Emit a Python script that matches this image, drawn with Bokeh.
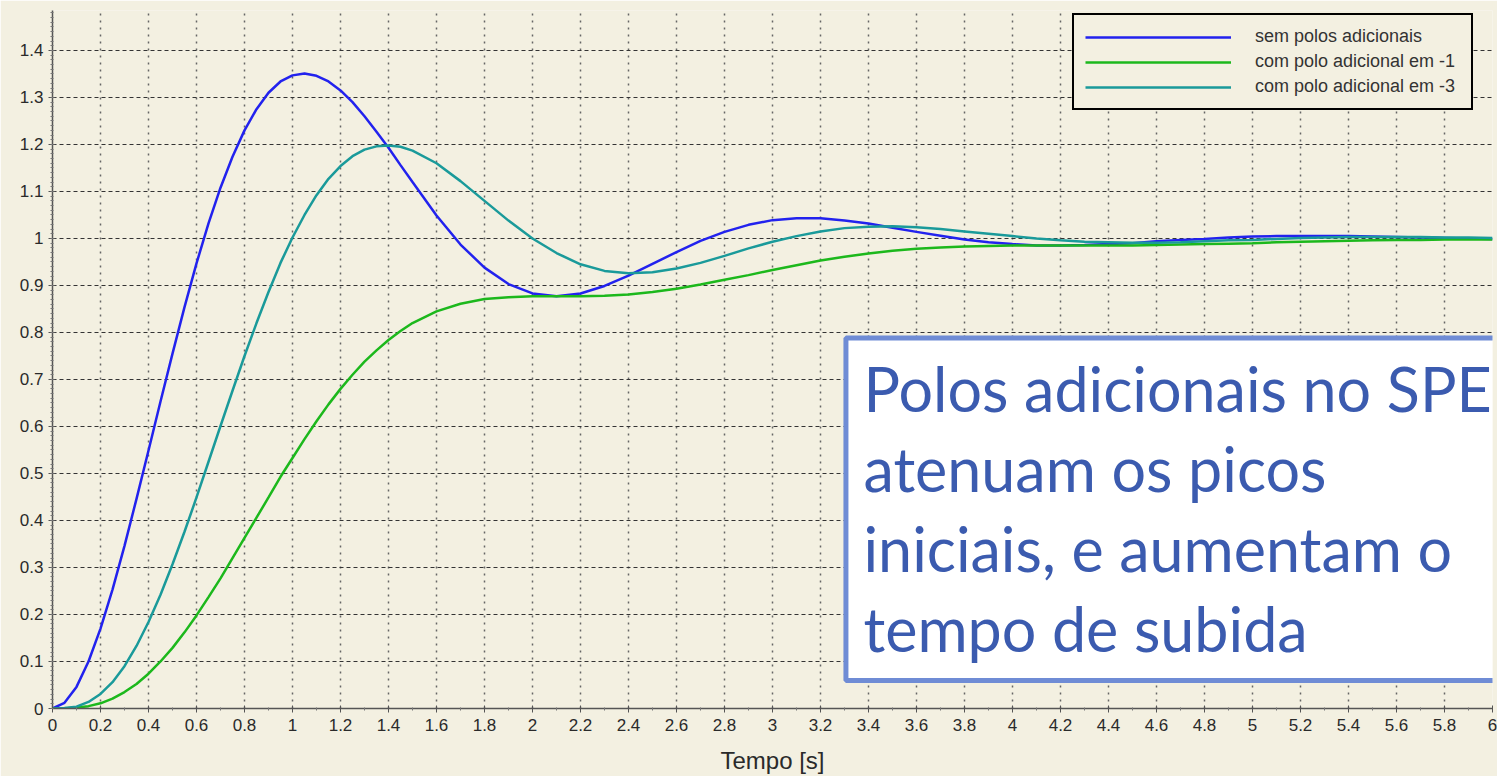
from bokeh.plotting import figure
from bokeh.models import FixedTicker, Legend, LegendItem, BoxAnnotation, Label, Range1d
from bokeh.embed import file_html
from bokeh.resources import INLINE

# ---- data ----
t = [0.0, 0.05, 0.1, 0.15, 0.2, 0.25, 0.3, 0.35, 0.4, 0.45,
     0.5, 0.55, 0.6, 0.65, 0.7, 0.75, 0.8, 0.85, 0.9, 0.95,
     1.0, 1.05, 1.1, 1.15, 1.2, 1.25, 1.3, 1.35, 1.4, 1.45, 1.5,
     1.6, 1.7, 1.8, 1.9,
     2.0, 2.1, 2.2, 2.3, 2.4, 2.5, 2.6, 2.7, 2.8, 2.9,
     3.0, 3.1, 3.2, 3.3, 3.4, 3.5, 3.6, 3.7, 3.8, 3.9,
     4.0, 4.1, 4.2, 4.3, 4.4, 4.5, 4.6, 4.7, 4.8, 4.9,
     5.0, 5.1, 5.2, 5.3, 5.4, 5.5, 5.6, 5.7, 5.8, 5.9, 6.0]

sem_polos = [0.000, 0.012, 0.046, 0.100, 0.170, 0.253, 0.346, 0.446, 0.549, 0.653,
             0.755, 0.854, 0.947, 1.032, 1.108, 1.174, 1.230, 1.275, 1.310, 1.334,
             1.347, 1.351, 1.346, 1.334, 1.315, 1.290, 1.260, 1.227, 1.193, 1.156, 1.120,
             1.049, 0.987, 0.938, 0.903,
             0.883, 0.877, 0.883, 0.899, 0.921, 0.946, 0.971, 0.995, 1.014, 1.029,
             1.039, 1.043, 1.043, 1.038, 1.032, 1.023, 1.014, 1.006, 0.998, 0.992,
             0.988, 0.985, 0.985, 0.986, 0.988, 0.990, 0.994, 0.997, 0.999, 1.002,
             1.004, 1.005, 1.005, 1.005, 1.005, 1.004, 1.003, 1.002, 1.001, 1.000, 0.999]

polo_em_1 = [0.000, 0.000, 0.002, 0.005, 0.011, 0.021, 0.035, 0.052, 0.074, 0.100,
             0.129, 0.162, 0.198, 0.237, 0.277, 0.320, 0.363, 0.406, 0.449, 0.493,
             0.533, 0.573, 0.611, 0.647, 0.680, 0.710, 0.738, 0.762, 0.784, 0.803, 0.820,
             0.845, 0.861, 0.871, 0.875,
             0.877, 0.877, 0.877, 0.878, 0.881, 0.886, 0.893, 0.902, 0.912, 0.922,
             0.933, 0.943, 0.953, 0.961, 0.968, 0.974, 0.978, 0.981, 0.983, 0.984,
             0.985, 0.985, 0.985, 0.985, 0.985, 0.985, 0.986, 0.987, 0.988, 0.989,
             0.990, 0.992, 0.993, 0.994, 0.995, 0.996, 0.997, 0.997, 0.998, 0.998, 0.998]

polo_em_3 = [0.000, 0.001, 0.004, 0.014, 0.031, 0.056, 0.090, 0.133, 0.184, 0.242,
             0.307, 0.376, 0.449, 0.525, 0.601, 0.676, 0.750, 0.820, 0.886, 0.948,
             1.002, 1.050, 1.092, 1.127, 1.154, 1.175, 1.189, 1.196, 1.198, 1.195, 1.187,
             1.160, 1.122, 1.080, 1.038,
             1.000, 0.969, 0.945, 0.931, 0.926, 0.928, 0.936, 0.948, 0.963, 0.979,
             0.993, 1.005, 1.015, 1.022, 1.025, 1.026, 1.024, 1.020, 1.015, 1.010,
             1.005, 1.000, 0.996, 0.993, 0.992, 0.991, 0.991, 0.992, 0.994, 0.996,
             0.997, 0.999, 1.001, 1.002, 1.003, 1.003, 1.003, 1.003, 1.002, 1.002, 1.001]

series_labels = ["sem polos adicionais", "com polo adicional em -1", "com polo adicional em -3"]

x_ticks = [0, 0.2, 0.4, 0.6, 0.8, 1, 1.2, 1.4, 1.6, 1.8, 2, 2.2, 2.4, 2.6, 2.8, 3,
           3.2, 3.4, 3.6, 3.8, 4, 4.2, 4.4, 4.6, 4.8, 5, 5.2, 5.4, 5.6, 5.8, 6]
x_tick_labels = ["0", "0.2", "0.4", "0.6", "0.8", "1", "1.2", "1.4", "1.6", "1.8", "2",
                 "2.2", "2.4", "2.6", "2.8", "3", "3.2", "3.4", "3.6", "3.8", "4",
                 "4.2", "4.4", "4.6", "4.8", "5", "5.2", "5.4", "5.6", "5.8", "6"]
y_ticks = [0, 0.1, 0.2, 0.3, 0.4, 0.5, 0.6, 0.7, 0.8, 0.9, 1, 1.1, 1.2, 1.3, 1.4]
y_tick_labels = ["0", "0.1", "0.2", "0.3", "0.4", "0.5", "0.6", "0.7", "0.8", "0.9",
                 "1", "1.1", "1.2", "1.3", "1.4"]

x_label = "Tempo [s]"
box_lines = ["Polos adicionais no SPE", "atenuam os picos",
             "iniciais, e aumentam o", "tempo de subida"]

# ---- styles ----
BG = "#F3F0E1"
C_BLUE = "#2222EE"
C_GREEN = "#1CB81C"
C_TEAL = "#1A9A9A"
TXT = "#2A2A2A"
FONT = "Liberation Sans"

p = figure(width=1497, height=776, x_range=Range1d(0, 6), y_range=Range1d(0, 1.485),
           output_backend="svg", toolbar_location=None,
           min_border_left=52, min_border_right=5, min_border_top=10, min_border_bottom=68,
           background_fill_color=BG, border_fill_color=BG, outline_line_color=None)

x_minor = [round(0.1 * k, 1) for k in range(1, 60, 2)]
y_minor = [round(0.01 * k, 2) for k in range(0, 149)]
p.xaxis.ticker = FixedTicker(ticks=x_ticks, minor_ticks=x_minor)
p.yaxis.ticker = FixedTicker(ticks=y_ticks, minor_ticks=y_minor)
p.xaxis.major_label_overrides = dict(zip(x_ticks, x_tick_labels))
p.yaxis.major_label_overrides = dict(zip(y_ticks, y_tick_labels))

for ax in (p.xaxis, p.yaxis):
    ax.axis_line_color = "#555555"
    ax.axis_line_width = 1.5
    ax.major_tick_line_color = "#555555"
    ax.minor_tick_line_color = "#777777"
    ax.major_tick_out = 4
    ax.major_tick_in = 3
    ax.minor_tick_out = 2
    ax.minor_tick_in = 1
    ax.major_label_text_font = FONT
    ax.major_label_text_font_size = "17px"
    ax.major_label_text_color = TXT
p.xaxis.major_label_standoff = 6
p.yaxis.major_label_standoff = 5
p.xaxis.axis_label = x_label
p.xaxis.axis_label_text_font = FONT
p.xaxis.axis_label_text_font_size = "24px"
p.xaxis.axis_label_text_font_style = "normal"
p.xaxis.axis_label_text_color = TXT
p.xaxis.axis_label_standoff = 13

p.xgrid.grid_line_color = "#666666"
p.xgrid.grid_line_width = 1.5
p.xgrid.grid_line_dash = "2 5"
p.ygrid.grid_line_color = "#333333"
p.ygrid.grid_line_width = 1
p.ygrid.grid_line_dash = "4 3"

r1 = p.line(t, sem_polos, line_color=C_BLUE, line_width=2.5)
r2 = p.line(t, polo_em_1, line_color=C_GREEN, line_width=2.5)
r3 = p.line(t, polo_em_3, line_color=C_TEAL, line_width=2.5)

box = BoxAnnotation(left=3.306, right=6.5, bottom=0.0596, top=0.788,
                    fill_color="white", fill_alpha=1.0,
                    line_color="#6F8CD5", line_width=5, line_alpha=1.0)
p.add_layout(box)

baselines = [0.681, 0.511, 0.341, 0.171]
for line, yb in zip(box_lines, baselines):
    p.add_layout(Label(x=3.379, y=yb, text=line, text_font="Lato",
                       text_font_size="61px", text_color="#3B5BAF",
                       text_baseline="alphabetic", text_align="left"))

legend = Legend(items=[LegendItem(label=series_labels[0], renderers=[r1]),
                       LegendItem(label=series_labels[1], renderers=[r2]),
                       LegendItem(label=series_labels[2], renderers=[r3])],
                location=(1020, 598), orientation="vertical",
                border_line_color="black", border_line_width=2, border_line_alpha=1.0,
                background_fill_color=BG, background_fill_alpha=1.0,
                label_text_font=FONT, label_text_font_size="18px", label_text_color="#333333",
                glyph_width=146, glyph_height=14, label_height=14, label_standoff=24,
                padding=11, spacing=4, margin=0, label_width=205)
p.add_layout(legend)

open("out.html", "w").write(file_html(p, INLINE))
